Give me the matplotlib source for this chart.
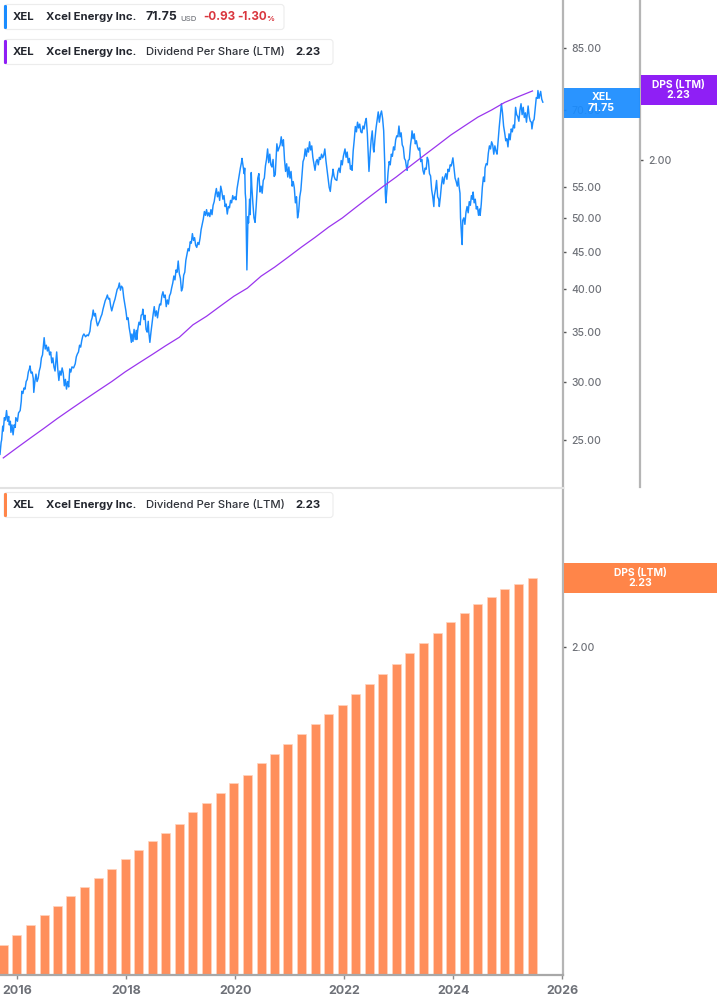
import matplotlib
matplotlib.use("Agg")
import matplotlib.pyplot as plt
from matplotlib.patches import Rectangle, FancyBboxPatch
from matplotlib.ticker import FixedLocator, FixedFormatter, NullLocator

plt.rcParams['font.family'] = ['Inter', 'DejaVu Sans']

price_dates = [
2015.68,2015.70,2015.71,2015.73,2015.74,2015.76,2015.78,2015.80,2015.82,2015.84,2015.85,2015.87,2015.88,2015.90,2015.92,2015.94,2015.96,2015.97,
2016.00,2016.02,2016.05,2016.07,2016.08,2016.10,2016.12,2016.14,2016.16,2016.18,2016.20,2016.22,2016.23,2016.25,2016.27,2016.29,2016.30,2016.32,2016.34,2016.36,2016.38,2016.40,2016.42,2016.44,2016.46,2016.48,2016.49,2016.51,2016.53,2016.55,2016.57,2016.59,2016.61,2016.63,2016.65,2016.67,2016.69,2016.71,2016.72,2016.74,2016.76,2016.78,2016.80,2016.82,2016.84,2016.86,2016.88,2016.90,2016.92,2016.94,2016.96,2016.98,
2017.00,2017.03,2017.06,2017.08,2017.10,2017.12,2017.14,2017.16,2017.18,2017.20,2017.22,2017.25,2017.28,2017.30,2017.33,2017.35,2017.37,2017.39,2017.41,2017.43,2017.45,2017.47,2017.49,2017.51,2017.53,2017.55,2017.57,2017.59,2017.61,2017.63,2017.65,2017.67,2017.69,2017.71,2017.73,2017.75,2017.77,2017.79,2017.81,2017.83,2017.85,2017.87,2017.89,2017.91,2017.93,2017.95,2017.97,2017.99,
2018.01,2018.03,2018.05,2018.07,2018.09,2018.10,2018.12,2018.14,2018.16,2018.18,2018.19,2018.21,2018.23,2018.25,2018.27,2018.29,2018.30,2018.32,2018.34,2018.36,2018.38,2018.40,2018.41,2018.43,2018.45,2018.47,2018.49,2018.51,2018.53,2018.55,2018.57,2018.59,2018.61,2018.63,2018.65,2018.67,2018.69,2018.71,2018.73,2018.75,2018.77,2018.79,2018.81,2018.83,2018.85,2018.87,2018.89,2018.91,2018.93,2018.95,2018.97,2018.99,
2019.01,2019.03,2019.05,2019.07,2019.09,2019.11,2019.13,2019.15,2019.17,2019.19,2019.21,2019.23,2019.25,2019.27,2019.29,2019.31,2019.33,2019.35,2019.37,2019.39,2019.41,2019.43,2019.45,2019.47,2019.49,2019.51,2019.53,2019.55,2019.57,2019.59,2019.61,2019.63,2019.65,2019.67,2019.69,2019.71,2019.73,2019.75,2019.77,2019.79,2019.81,2019.83,2019.85,2019.87,2019.89,2019.91,2019.93,2019.95,2019.97,2019.99,
2020.01,2020.03,2020.05,2020.07,2020.09,2020.11,2020.12,2020.14,2020.16,2020.17,2020.18,2020.19,2020.20,2020.21,2020.22,2020.23,2020.24,2020.26,2020.27,2020.29,2020.30,2020.32,2020.34,2020.36,2020.38,2020.40,2020.41,2020.43,2020.45,2020.47,2020.49,2020.51,2020.53,2020.55,2020.57,2020.59,2020.61,2020.63,2020.65,2020.67,2020.69,2020.71,2020.73,2020.75,2020.76,2020.78,2020.80,2020.82,2020.84,2020.86,2020.88,2020.90,2020.92,2020.94,2020.96,2020.98,
2021.00,2021.02,2021.04,2021.06,2021.08,2021.10,2021.12,2021.14,2021.16,2021.18,2021.20,2021.22,2021.24,2021.26,2021.28,2021.30,2021.32,2021.34,2021.36,2021.38,2021.40,2021.42,2021.44,2021.46,2021.48,2021.50,2021.52,2021.54,2021.56,2021.58,2021.60,2021.62,2021.64,2021.66,2021.68,2021.70,2021.72,2021.74,2021.76,2021.78,2021.79,2021.81,2021.83,2021.86,2021.88,2021.90,2021.92,2021.94,2021.96,2021.98,
2022.01,2022.03,2022.05,2022.07,2022.09,2022.11,2022.13,2022.14,2022.16,2022.18,2022.20,2022.22,2022.24,2022.26,2022.28,2022.30,2022.32,2022.34,2022.36,2022.38,2022.40,2022.42,2022.44,2022.45,2022.47,2022.49,2022.51,2022.53,2022.54,2022.56,2022.58,2022.60,2022.62,2022.64,2022.66,2022.68,2022.70,2022.72,2022.74,2022.75,2022.76,2022.78,2022.80,2022.82,2022.84,2022.86,2022.88,2022.90,2022.92,2022.94,2022.96,2022.98,
2023.00,2023.02,2023.04,2023.06,2023.08,2023.10,2023.12,2023.14,2023.15,2023.17,2023.19,2023.21,2023.23,2023.24,2023.26,2023.28,2023.30,2023.32,2023.34,2023.36,2023.38,2023.40,2023.42,2023.44,2023.46,2023.48,2023.50,2023.52,2023.54,2023.56,2023.58,2023.60,2023.62,2023.64,2023.65,2023.67,2023.69,2023.71,2023.73,2023.74,2023.76,2023.78,2023.80,2023.82,2023.84,2023.86,2023.88,2023.90,2023.92,2023.94,2023.96,2023.98,2023.99,
2024.01,2024.03,2024.05,2024.07,2024.09,2024.10,2024.12,2024.13,2024.15,2024.16,2024.17,2024.19,2024.21,2024.23,2024.25,2024.27,2024.29,2024.31,2024.33,2024.35,2024.36,2024.38,2024.40,2024.42,2024.44,2024.46,2024.48,2024.49,2024.51,2024.53,2024.55,2024.57,2024.58,2024.60,2024.62,2024.64,2024.66,2024.68,2024.70,2024.72,2024.74,2024.76,2024.78,2024.80,2024.82,2024.84,2024.86,2024.88,2024.90,2024.92,2024.94,2024.96,2024.98,
2025.00,2025.02,2025.04,2025.06,2025.08,2025.10,2025.12,2025.14,2025.16,2025.18,2025.20,2025.22,2025.24,2025.26,2025.28,2025.30,2025.32,2025.34,2025.36,2025.37,2025.39,2025.41,2025.43,2025.44,2025.46,2025.48,2025.50,2025.52,2025.54,2025.55,2025.57,2025.59,2025.60,2025.62,2025.64]
price_values = [
23.9,24.8,25.0,26.1,25.7,26.8,26.6,27.4,26.5,26.9,26.2,26.5,25.6,26.2,25.4,26.2,26.0,26.8,
26.5,27.2,27.4,28.2,29.1,28.9,29.4,29.3,30.0,30.2,30.9,31.2,31.5,30.8,30.9,30.3,29.0,30.0,30.7,30.0,30.3,31.0,31.4,32.3,32.6,33.8,34.4,33.2,33.6,33.0,33.4,32.6,32.9,31.8,32.3,31.4,31.0,32.2,32.9,31.2,30.1,31.0,30.6,31.3,30.8,29.6,30.2,29.3,30.0,29.5,31.2,30.9,
31.4,31.3,31.7,32.4,32.7,32.9,33.6,33.4,34.1,34.6,34.8,34.5,34.7,34.6,35.1,36.2,36.6,37.5,36.8,37.1,36.2,35.7,36.0,36.3,36.7,37.0,37.6,38.1,38.6,38.9,39.3,38.8,38.9,38.0,37.4,37.9,38.4,38.8,39.4,40.0,40.2,40.8,39.9,40.4,40.2,39.0,38.2,37.4,
36.4,36.6,35.5,34.8,33.9,34.8,34.0,35.3,34.2,35.2,34.2,35.4,36.1,35.8,36.9,37.0,37.6,36.4,36.9,35.3,35.0,36.2,35.0,33.9,35.0,36.0,37.0,37.9,36.8,37.4,36.6,37.5,38.2,38.1,39.2,39.7,39.0,39.3,37.9,38.7,38.2,39.2,39.5,40.2,40.8,41.7,41.2,42.5,42.2,43.7,42.0,41.4,
39.8,40.2,41.8,42.2,43.8,44.6,45.4,45.1,46.4,46.2,47.6,46.6,47.0,45.9,45.6,46.3,46.0,46.9,48.2,49.0,49.8,51.0,50.4,51.3,50.3,50.8,50.2,51.3,50.5,52.0,52.6,53.8,54.8,53.4,54.2,52.8,55.2,54.3,53.0,53.6,51.8,52.2,50.6,51.8,51.6,52.8,52.4,53.6,53.0,53.4,
52.9,54.8,56.0,57.2,58.4,59.4,60.2,58.8,57.4,58.4,54.0,52.9,47.0,42.5,46.5,50.2,49.2,53.0,50.5,57.6,55.2,52.3,50.0,49.3,51.8,54.8,56.6,57.4,54.2,55.2,54.0,56.2,56.6,58.8,60.0,62.0,59.4,61.0,59.0,58.6,60.0,56.9,57.2,61.0,63.0,61.6,62.2,62.8,64.4,62.6,63.8,60.0,57.8,59.2,56.8,58.6,
56.6,57.8,55.2,56.0,54.9,52.4,53.4,50.0,51.0,53.4,54.5,56.9,59.6,60.2,62.0,60.6,62.2,61.4,63.4,61.8,62.6,60.4,59.2,58.0,59.6,60.0,59.0,60.4,60.0,61.0,60.3,60.8,62.0,59.8,58.2,56.8,55.0,54.3,56.2,57.2,58.2,56.9,56.4,56.2,57.8,58.4,57.6,59.8,59.0,60.6,
62.0,60.4,61.4,59.4,60.2,58.2,58.8,58.0,61.6,63.8,66.5,65.4,67.4,66.2,67.0,65.4,65.2,66.6,66.0,67.4,68.2,65.0,60.4,57.8,61.0,63.8,65.6,62.0,61.4,64.0,66.2,67.8,69.6,67.4,69.0,69.8,68.2,65.6,59.0,54.0,52.4,54.8,57.6,59.6,59.0,61.0,60.6,62.4,61.8,63.8,64.6,64.4,
66.6,64.4,65.2,62.8,62.3,60.2,59.8,58.4,58.0,59.8,60.0,62.6,64.2,65.6,64.0,65.0,63.0,63.6,62.4,61.8,62.2,59.6,60.0,58.0,57.3,58.4,58.2,60.4,59.8,57.4,57.0,54.6,53.4,51.8,53.6,54.6,56.2,53.4,53.0,51.8,53.4,55.4,56.8,55.6,56.8,57.4,56.4,58.2,57.8,59.0,58.8,59.8,60.3,
58.4,56.6,56.0,55.2,56.6,55.4,54.0,50.0,47.0,46.0,49.6,50.0,49.0,50.9,51.8,50.8,52.6,52.0,53.6,53.0,54.2,52.4,53.0,51.4,51.8,50.4,51.4,50.4,52.2,55.0,56.8,56.0,58.4,59.2,59.0,61.2,62.6,62.0,63.4,62.8,61.0,62.6,61.6,61.0,63.6,66.4,68.8,71.4,69.4,66.6,65.2,63.6,64.0,
62.4,65.0,63.8,66.0,65.4,66.8,66.2,70.6,69.0,68.6,67.6,70.0,71.4,69.0,70.6,68.4,69.4,67.4,69.6,70.9,68.6,67.6,67.4,66.0,67.6,68.0,70.4,72.8,72.6,74.4,72.6,73.6,74.2,72.4,71.75]

dps_dates = [2015.74,2015.99,2016.24,2016.49,2016.73,2016.98,2017.23,2017.48,2017.73,2017.98,2018.23,2018.48,2018.72,2018.97,2019.22,2019.47,2019.72,2019.97,2020.22,2020.47,2020.72,2020.96,2021.21,2021.46,2021.71,2021.96,2022.21,2022.46,2022.70,2022.95,2023.20,2023.45,2023.70,2023.95,2024.20,2024.45,2024.70,2024.94,2025.19,2025.45]
dps_values = [1.25,1.27,1.29,1.31,1.33,1.35,1.37,1.39,1.41,1.432,1.452,1.472,1.492,1.512,1.542,1.563,1.588,1.613,1.634,1.665,1.689,1.715,1.743,1.770,1.799,1.825,1.856,1.887,1.917,1.947,1.980,2.013,2.046,2.080,2.11,2.14,2.164,2.19,2.21,2.23]

year_ticks = [2016,2018,2020,2022,2024,2026]
price_ticks = [25,30,35,40,45,50,55,70,85]
dps_ticks = [2.0]

GREY = '#b5b5b5'
LABEL = '#6e7178'
BLUE = '#1a8cff'
PURPLE = '#8f1ff5'
ORANGE = '#ff8549'
W, H = 717, 1005
fig = plt.figure(figsize=(W/100, H/100), dpi=100)

def axes_px(x0, y0, x1, y1):
    return fig.add_axes([x0/W, 1-y1/H, (x1-x0)/W, (y1-y0)/H])

XLIM = (2015.68, 2026.01)

# ---- top panel
ax = axes_px(0, 0, 563, 487.5)
ax.set_xlim(*XLIM)
ax.set_yscale('log')
ax.set_ylim(21.55, 98.7)
ax.plot(price_dates, price_values, color=BLUE, lw=1.05, solid_joinstyle='round')

ax2 = ax.twinx()
ax2.set_yscale('log')
ax2.set_ylim(1.193, 2.574)
ax2.plot(dps_dates, dps_values, color='#9a35ee', lw=0.9)
for s in ['top', 'left', 'bottom']:
    ax.spines[s].set_visible(False)
    ax2.spines[s].set_visible(False)
ax.spines['right'].set_color(GREY); ax.spines['right'].set_linewidth(1.6)
ax.xaxis.set_major_locator(NullLocator()); ax.xaxis.set_minor_locator(NullLocator())
ax.yaxis.tick_right()
ax.yaxis.set_major_locator(FixedLocator(price_ticks))
ax.yaxis.set_major_formatter(FixedFormatter([f'{v:.2f}' for v in price_ticks]))
ax.yaxis.set_minor_locator(NullLocator())
ax.tick_params(axis='y', length=2, width=1, color='#555555', labelsize=7.5, labelcolor=LABEL, pad=4.2)
for t_ in ax.get_yticklabels():
    t_.set_fontweight('medium')

ax2.spines['right'].set_position(('outward', 77*0.72))
ax2.spines['right'].set_color(GREY); ax2.spines['right'].set_linewidth(1.6)
ax2.yaxis.set_major_locator(FixedLocator(dps_ticks))
ax2.yaxis.set_major_formatter(FixedFormatter([f'{v:.2f}' for v in dps_ticks]))
ax2.yaxis.set_minor_locator(NullLocator())
ax2.tick_params(axis='y', length=2, width=1, color='#555555', labelsize=7.5, labelcolor=LABEL, pad=4.2)
for t_ in ax2.get_yticklabels():
    t_.set_fontweight('medium')

# ---- bottom panel
bx = axes_px(0, 488, 563, 975)
bx.set_xlim(*XLIM)
bx.set_yscale('log')
bx.bar(dps_dates, dps_values, width=0.165, color='#ff8f5c', edgecolor='#ffd3bd', linewidth=0.5)
bx.set_ylim(1.192, 2.57)
for s in ['top', 'left']:
    bx.spines[s].set_visible(False)
bx.spines['right'].set_color(GREY); bx.spines['right'].set_linewidth(1.6)
bx.spines['bottom'].set_color('#a8a8a8'); bx.spines['bottom'].set_linewidth(1.6)
bx.yaxis.tick_right()
bx.yaxis.set_major_locator(FixedLocator(dps_ticks))
bx.yaxis.set_major_formatter(FixedFormatter([f'{v:.2f}' for v in dps_ticks]))
bx.yaxis.set_minor_locator(NullLocator())
bx.tick_params(axis='y', length=2, width=1, color='#555555', labelsize=7.5, labelcolor=LABEL, pad=4.2)
for t_ in bx.get_yticklabels():
    t_.set_fontweight('medium')
bx.set_xticks(year_ticks)
bx.set_xticklabels([str(y) for y in year_ticks])
bx.xaxis.set_minor_locator(NullLocator())
bx.tick_params(axis='x', length=3, width=1, color='#8a8a8a', labelsize=9.0, labelcolor=LABEL, pad=4.5)
for t_ in bx.get_xticklabels():
    t_.set_fontweight('bold')

# ---- overlay in pixels (legends, value boxes, separator)
ov = fig.add_axes([0, 0, 1, 1], zorder=10)
ov.set_xlim(0, W); ov.set_ylim(H, 0); ov.axis('off'); ov.patch.set_alpha(0)

ov.plot([0, 563], [488, 488], color='#e2e2e2', lw=1.5)

def box(x0, y0, x1, y1, c, a=1.0):
    ov.add_patch(Rectangle((x0, y0), x1-x0, y1-y0, fc=c, ec='none', alpha=a))

def lbl(x, y, s, **k):
    k.setdefault('color', 'white'); k.setdefault('fontsize', 7.6); k.setdefault('fontweight', 'bold')
    ov.text(x, y, s, ha='center', va='center', **k)

box(564, 88, 640, 118, BLUE, 0.93)
lbl(601.5, 97, 'XEL'); lbl(601.5, 108, '71.75')
box(641, 75, 717, 105, PURPLE)
lbl(678.5, 84.5, 'DPS (LTM)', fontsize=7.4); lbl(678.5, 95, '2.23')
box(564, 563, 717, 593, ORANGE)
lbl(640, 572.5, 'DPS (LTM)', fontsize=7.4); lbl(640, 583, '2.23')

def chip(y0, x1, c):
    ov.add_patch(FancyBboxPatch((4, y0+0.5), x1-4, 25, boxstyle='round,pad=0,rounding_size=3',
                                fc='white', ec='#ececec', lw=0.8))
    ov.add_patch(FancyBboxPatch((4, y0+1), 3, 24, boxstyle='round,pad=0,rounding_size=1.2', fc=c, ec='none'))

DARK = '#23262e'
def t(x, y, s, c=DARK, fs=8.15, w='bold'):
    ov.text(x, y, s, color=c, fontsize=fs, fontweight=w, ha='left', va='center')

for y0, x1, c, rest in [(4, 284, BLUE, False), (39, 333, PURPLE, True), (492, 333, ORANGE, True)]:
    chip(y0, x1, c)
    yc = y0 + 13
    t(13, yc, 'XEL'); t(46, yc, 'Xcel Energy Inc.')
    if rest:
        t(146, yc, 'Dividend Per Share (LTM)', w='medium', c='#30333a')
        t(295.5, yc, '2.23')
    else:
        t(146, yc, '71.75', fs=8.8)
        t(180, yc+1.5, 'USD', c='#777a80', fs=5.6, w='medium')
        t(203, yc, '-0.93', c='#d9363e', fs=8.4)
        t(237, yc, '-1.30', c='#d9363e', fs=8.4)
        t(266, yc+1.5, '%', c='#d9363e', fs=5.6)

fig.savefig('out.png', dpi=100, facecolor='white')
